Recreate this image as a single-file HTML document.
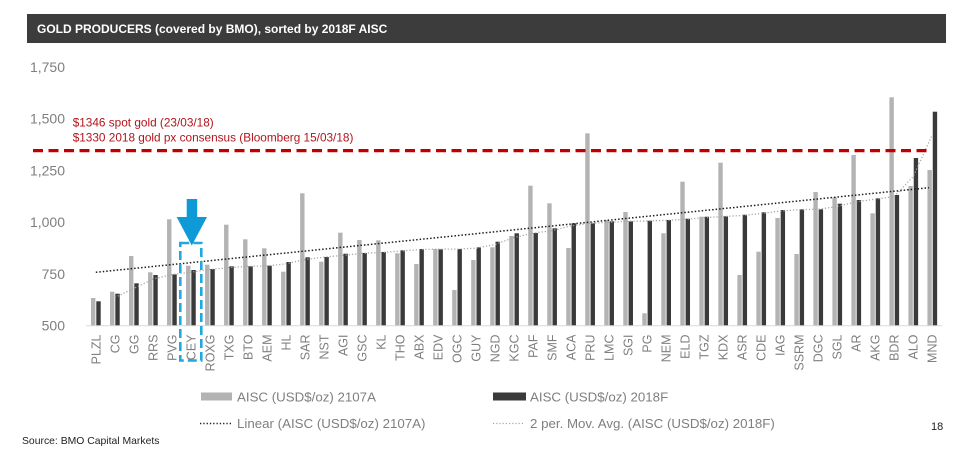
<!DOCTYPE html>
<html><head><meta charset="utf-8"><style>
html,body{margin:0;padding:0;background:#fff;}
svg{display:block;}
text{font-family:"Liberation Sans",Arial,sans-serif;}
</style></head><body>
<svg width="975" height="466" viewBox="0 0 975 466" xmlns="http://www.w3.org/2000/svg">
<rect width="975" height="466" fill="#fff"/>
<!-- header -->
<rect x="27" y="14" width="919" height="29" fill="#3c3c3c"/>
<text x="37" y="33" font-size="12" font-weight="bold" fill="#fff">GOLD PRODUCERS (covered by BMO), sorted by 2018F AISC</text>

<!-- y axis labels -->
<g font-size="14" fill="#7f7f7f" text-anchor="end">
<text x="65" y="72">1,750</text>
<text x="65" y="123.7">1,500</text>
<text x="65" y="175.4">1,250</text>
<text x="65" y="227.1">1,000</text>
<text x="65" y="278.8">750</text>
<text x="65" y="330.5">500</text>
</g>

<!-- light bars -->
<g fill="#b3b3b3">
<rect x="91" y="298" width="4.4" height="27.5"/>
<rect x="110.01" y="291.7" width="4.4" height="33.8"/>
<rect x="129.02" y="256" width="4.4" height="69.5"/>
<rect x="148.03" y="272.3" width="4.4" height="53.2"/>
<rect x="167.04" y="219.3" width="4.4" height="106.2"/>
<rect x="186.05" y="265.7" width="4.4" height="59.8"/>
<rect x="205.06" y="264.7" width="4.4" height="60.8"/>
<rect x="224.07" y="224.7" width="4.4" height="100.8"/>
<rect x="243.08" y="239.3" width="4.4" height="86.2"/>
<rect x="262.09" y="248.3" width="4.4" height="77.2"/>
<rect x="281.1" y="271.7" width="4.4" height="53.8"/>
<rect x="300.11" y="193.3" width="4.4" height="132.2"/>
<rect x="319.12" y="261.7" width="4.4" height="63.8"/>
<rect x="338.13" y="232.7" width="4.4" height="92.8"/>
<rect x="357.14" y="240" width="4.4" height="85.5"/>
<rect x="376.15" y="240.3" width="4.4" height="85.2"/>
<rect x="395.16" y="253.3" width="4.4" height="72.2"/>
<rect x="414.17" y="264" width="4.4" height="61.5"/>
<rect x="433.18" y="249" width="4.4" height="76.5"/>
<rect x="452.19" y="290" width="4.4" height="35.5"/>
<rect x="471.2" y="260" width="4.4" height="65.5"/>
<rect x="490.21" y="247.3" width="4.4" height="78.2"/>
<rect x="509.22" y="236" width="4.4" height="89.5"/>
<rect x="528.23" y="185.7" width="4.4" height="139.8"/>
<rect x="547.24" y="203.3" width="4.4" height="122.2"/>
<rect x="566.25" y="248" width="4.4" height="77.5"/>
<rect x="585.26" y="133.3" width="4.4" height="192.2"/>
<rect x="604.27" y="220" width="4.4" height="105.5"/>
<rect x="623.28" y="212" width="4.4" height="113.5"/>
<rect x="642.29" y="313.3" width="4.4" height="12.2"/>
<rect x="661.3" y="233.3" width="4.4" height="92.2"/>
<rect x="680.31" y="181.7" width="4.4" height="143.8"/>
<rect x="699.32" y="216.7" width="4.4" height="108.8"/>
<rect x="718.33" y="162.7" width="4.4" height="162.8"/>
<rect x="737.34" y="275" width="4.4" height="50.5"/>
<rect x="756.35" y="251.7" width="4.4" height="73.8"/>
<rect x="775.36" y="218" width="4.4" height="107.5"/>
<rect x="794.37" y="254" width="4.4" height="71.5"/>
<rect x="813.38" y="192" width="4.4" height="133.5"/>
<rect x="832.39" y="197.3" width="4.4" height="128.2"/>
<rect x="851.4" y="155" width="4.4" height="170.5"/>
<rect x="870.41" y="213.3" width="4.4" height="112.2"/>
<rect x="889.42" y="97.3" width="4.4" height="228.2"/>
<rect x="908.43" y="186" width="4.4" height="139.5"/>
<rect x="927.44" y="170" width="4.4" height="155.5"/>
</g>

<!-- dark bars -->
<g fill="#3a3a3a">
<rect x="96.3" y="301.3" width="4.4" height="24.2"/>
<rect x="115.31" y="293.7" width="4.4" height="31.8"/>
<rect x="134.32" y="283.3" width="4.4" height="42.2"/>
<rect x="153.33" y="275" width="4.4" height="50.5"/>
<rect x="172.34" y="274.3" width="4.4" height="51.2"/>
<rect x="191.35" y="270" width="4.4" height="55.5"/>
<rect x="210.36" y="269" width="4.4" height="56.5"/>
<rect x="229.37" y="266.3" width="4.4" height="59.2"/>
<rect x="248.38" y="266.3" width="4.4" height="59.2"/>
<rect x="267.39" y="265.7" width="4.4" height="59.8"/>
<rect x="286.4" y="262" width="4.4" height="63.5"/>
<rect x="305.41" y="257.3" width="4.4" height="68.2"/>
<rect x="324.42" y="257" width="4.4" height="68.5"/>
<rect x="343.43" y="253.7" width="4.4" height="71.8"/>
<rect x="362.44" y="253" width="4.4" height="72.5"/>
<rect x="381.45" y="252" width="4.4" height="73.5"/>
<rect x="400.46" y="250.3" width="4.4" height="75.2"/>
<rect x="419.47" y="249" width="4.4" height="76.5"/>
<rect x="438.48" y="249.3" width="4.4" height="76.2"/>
<rect x="457.49" y="249" width="4.4" height="76.5"/>
<rect x="476.5" y="247.3" width="4.4" height="78.2"/>
<rect x="495.51" y="241.7" width="4.4" height="83.8"/>
<rect x="514.52" y="233.3" width="4.4" height="92.2"/>
<rect x="533.53" y="233" width="4.4" height="92.5"/>
<rect x="552.54" y="228.3" width="4.4" height="97.2"/>
<rect x="571.55" y="223.3" width="4.4" height="102.2"/>
<rect x="590.56" y="223.3" width="4.4" height="102.2"/>
<rect x="609.57" y="221.3" width="4.4" height="104.2"/>
<rect x="628.58" y="221.3" width="4.4" height="104.2"/>
<rect x="647.59" y="220.7" width="4.4" height="104.8"/>
<rect x="666.6" y="220" width="4.4" height="105.5"/>
<rect x="685.61" y="218.7" width="4.4" height="106.8"/>
<rect x="704.62" y="216.7" width="4.4" height="108.8"/>
<rect x="723.63" y="216.3" width="4.4" height="109.2"/>
<rect x="742.64" y="214.7" width="4.4" height="110.8"/>
<rect x="761.65" y="212.3" width="4.4" height="113.2"/>
<rect x="780.66" y="210" width="4.4" height="115.5"/>
<rect x="799.67" y="209.3" width="4.4" height="116.2"/>
<rect x="818.68" y="209.3" width="4.4" height="116.2"/>
<rect x="837.69" y="203.7" width="4.4" height="121.8"/>
<rect x="856.7" y="200" width="4.4" height="125.5"/>
<rect x="875.71" y="198.3" width="4.4" height="127.2"/>
<rect x="894.72" y="195" width="4.4" height="130.5"/>
<rect x="913.73" y="158" width="4.4" height="167.5"/>
<rect x="932.74" y="111.7" width="4.4" height="213.8"/>
</g>

<!-- axis line -->
<line x1="86" y1="325.7" x2="942" y2="325.7" stroke="#d9d9d9" stroke-width="1"/>

<!-- moving average trendline -->
<polyline fill="none" stroke="#a6a6a6" stroke-width="1.3" stroke-dasharray="1.2 2" points="114.81,297.5 133.82,288.5 152.83,279.15 171.84,274.65 190.85,272.15 209.86,269.5 228.87,267.65 247.88,266.3 266.89,266 285.9,263.85 304.91,259.65 323.92,257.15 342.93,255.35 361.94,253.35 380.95,252.5 399.96,251.15 418.97,249.65 437.98,249.15 456.99,249.15 476,248.15 495.01,244.5 514.02,237.5 533.03,233.15 552.04,230.65 571.05,225.8 590.06,223.3 609.07,222.3 628.08,221.3 647.09,221 666.1,220.35 685.11,219.35 704.12,217.7 723.13,216.5 742.14,215.5 761.15,213.5 780.16,211.15 799.17,209.65 818.18,209.3 837.19,206.5 856.2,201.85 875.21,199.15 894.22,196.65 913.23,176.5 932.24,134.85"/>

<!-- linear trendline -->
<line x1="95.8" y1="272.3" x2="929" y2="187.7" stroke="#1e1e1e" stroke-width="1.5" stroke-dasharray="1.5 2"/>

<!-- red dashed gold price line -->
<line x1="33" y1="150.6" x2="929" y2="150.6" stroke="#c00000" stroke-width="3.3" stroke-dasharray="10 5.5"/>
<g font-size="11.8" fill="#b3141c">
<text x="72.7" y="126.5">$1346 spot gold (23/03/18)</text>
<text x="72.7" y="141.5">$1330 2018 gold px consensus (Bloomberg 15/03/18)</text>
</g>

<!-- x labels -->
<g font-size="12.5" fill="#7f7f7f" text-anchor="end">
<text transform="translate(100.3,334.5) rotate(-90)">PLZL</text>
<text transform="translate(119.31,334.5) rotate(-90)">CG</text>
<text transform="translate(138.32,334.5) rotate(-90)">GG</text>
<text transform="translate(157.33,334.5) rotate(-90)">RRS</text>
<text transform="translate(176.34,334.5) rotate(-90)">PVG</text>
<text transform="translate(195.35,334.5) rotate(-90)">CEY</text>
<text transform="translate(214.36,334.5) rotate(-90)">ROXG</text>
<text transform="translate(233.37,334.5) rotate(-90)">TXG</text>
<text transform="translate(252.38,334.5) rotate(-90)">BTO</text>
<text transform="translate(271.39,334.5) rotate(-90)">AEM</text>
<text transform="translate(290.4,334.5) rotate(-90)">HL</text>
<text transform="translate(309.41,334.5) rotate(-90)">SAR</text>
<text transform="translate(328.42,334.5) rotate(-90)">NST</text>
<text transform="translate(347.43,334.5) rotate(-90)">AGI</text>
<text transform="translate(366.44,334.5) rotate(-90)">GSC</text>
<text transform="translate(385.45,334.5) rotate(-90)">KL</text>
<text transform="translate(404.46,334.5) rotate(-90)">THO</text>
<text transform="translate(423.47,334.5) rotate(-90)">ABX</text>
<text transform="translate(442.48,334.5) rotate(-90)">EDV</text>
<text transform="translate(461.49,334.5) rotate(-90)">OGC</text>
<text transform="translate(480.5,334.5) rotate(-90)">GUY</text>
<text transform="translate(499.51,334.5) rotate(-90)">NGD</text>
<text transform="translate(518.52,334.5) rotate(-90)">KGC</text>
<text transform="translate(537.53,334.5) rotate(-90)">PAF</text>
<text transform="translate(556.54,334.5) rotate(-90)">SMF</text>
<text transform="translate(575.55,334.5) rotate(-90)">ACA</text>
<text transform="translate(594.56,334.5) rotate(-90)">PRU</text>
<text transform="translate(613.57,334.5) rotate(-90)">LMC</text>
<text transform="translate(632.58,334.5) rotate(-90)">SGI</text>
<text transform="translate(651.59,334.5) rotate(-90)">PG</text>
<text transform="translate(670.6,334.5) rotate(-90)">NEM</text>
<text transform="translate(689.61,334.5) rotate(-90)">ELD</text>
<text transform="translate(708.62,334.5) rotate(-90)">TGZ</text>
<text transform="translate(727.63,334.5) rotate(-90)">KDX</text>
<text transform="translate(746.64,334.5) rotate(-90)">ASR</text>
<text transform="translate(765.65,334.5) rotate(-90)">CDE</text>
<text transform="translate(784.66,334.5) rotate(-90)">IAG</text>
<text transform="translate(803.67,334.5) rotate(-90)">SSRM</text>
<text transform="translate(822.68,334.5) rotate(-90)">DGC</text>
<text transform="translate(841.69,334.5) rotate(-90)">SGL</text>
<text transform="translate(860.7,334.5) rotate(-90)">AR</text>
<text transform="translate(879.71,334.5) rotate(-90)">AKG</text>
<text transform="translate(898.72,334.5) rotate(-90)">BDR</text>
<text transform="translate(917.73,334.5) rotate(-90)">ALO</text>
<text transform="translate(936.74,334.5) rotate(-90)">MND</text>
</g>

<!-- CEY highlight -->
<rect x="180.3" y="243" width="21" height="117.5" fill="none" stroke="#22a8e0" stroke-width="2.6" stroke-dasharray="9 4"/>
<rect x="186.7" y="199" width="10.5" height="18.5" fill="#0d9ad7"/>
<polygon points="176.7,217 207,217 191.8,245.5" fill="#0d9ad7"/>

<!-- legend -->
<rect x="201" y="392.5" width="31" height="8" fill="#b3b3b3"/>
<text x="237" y="401.5" font-size="13.3" fill="#7f7f7f">AISC (USD$/oz) 2107A</text>
<rect x="493" y="392.5" width="33" height="8" fill="#3a3a3a"/>
<text x="530" y="401.5" font-size="13.3" fill="#7f7f7f">AISC (USD$/oz) 2018F</text>
<line x1="200" y1="423.5" x2="231" y2="423.5" stroke="#1e1e1e" stroke-width="1.4" stroke-dasharray="1.3 2"/>
<text x="237" y="428" font-size="13.3" fill="#7f7f7f">Linear (AISC (USD$/oz) 2107A)</text>
<line x1="493" y1="423.5" x2="524" y2="423.5" stroke="#a6a6a6" stroke-width="1.2" stroke-dasharray="1.2 2"/>
<text x="530" y="428" font-size="13.3" fill="#7f7f7f">2 per. Mov. Avg. (AISC (USD$/oz) 2018F)</text>

<text x="931" y="430" font-size="11" fill="#222">18</text>
<text x="22" y="444" font-size="10.4" fill="#222">Source: BMO Capital Markets</text>
</svg>
</body></html>
